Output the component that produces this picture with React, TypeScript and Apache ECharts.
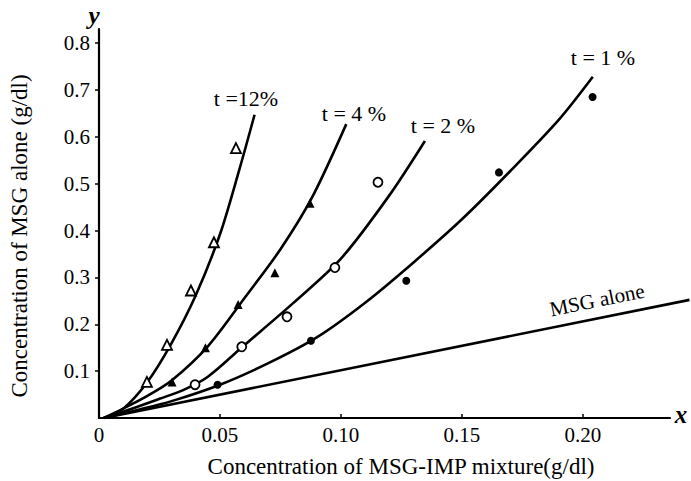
import React, { useEffect, useRef } from "react";
import * as echarts from "echarts";

// Axis ticks / labels
const xTickValues = [0.05, 0.1, 0.15, 0.2];
const xLabelValues = [0, 0.05, 0.1, 0.15, 0.2];
const yTickValues = [0.1, 0.2, 0.3, 0.4, 0.5, 0.6, 0.7, 0.8];

// Measured points (x: MSG-IMP mixture g/dl, y: MSG alone g/dl)
const pointsT12 = [
  [0.0198, 0.077],
  [0.0281, 0.156],
  [0.038, 0.272],
  [0.0475, 0.375],
  [0.0566, 0.576],
];
const pointsT4 = [
  [0.0302, 0.077],
  [0.044, 0.15],
  [0.0575, 0.242],
  [0.0727, 0.31],
  [0.0872, 0.458],
];
const pointsT2 = [
  [0.0397, 0.071],
  [0.059, 0.152],
  [0.0777, 0.216],
  [0.0975, 0.321],
  [0.1153, 0.503],
];
const pointsT1 = [
  [0.049, 0.071],
  [0.0876, 0.165],
  [0.127, 0.293],
  [0.1653, 0.524],
  [0.204, 0.685],
];

// Fitted curves
const curveT12 = [
  [0.002, 0],
  [0.01, 0.02],
  [0.02, 0.077],
  [0.03, 0.16],
  [0.04, 0.262],
  [0.05, 0.392],
  [0.058, 0.53],
  [0.0643, 0.647],
];
const curveT4 = [
  [0.002, 0],
  [0.01, 0.02],
  [0.02, 0.047],
  [0.03, 0.08],
  [0.045, 0.153],
  [0.06, 0.255],
  [0.075, 0.36],
  [0.088, 0.47],
  [0.1022, 0.627],
];
const curveT2 = [
  [0.002, 0],
  [0.012, 0.017],
  [0.025, 0.041],
  [0.035, 0.06],
  [0.045, 0.088],
  [0.06, 0.155],
  [0.08, 0.244],
  [0.1, 0.34],
  [0.12, 0.475],
  [0.1347, 0.591],
];
const curveT1 = [
  [0.002, 0],
  [0.015, 0.016],
  [0.03, 0.036],
  [0.05, 0.071],
  [0.07, 0.117],
  [0.09, 0.172],
  [0.11, 0.246],
  [0.13, 0.332],
  [0.15, 0.424],
  [0.17, 0.527],
  [0.19, 0.636],
  [0.2041, 0.728],
];
const msgAlone = [
  [0.002, 0],
  [0.244, 0.252],
];

const curveLabels = ["t =12%", "t = 4 %", "t = 2 %", "t = 1 %"];

const FONT = "'Liberation Serif', 'DejaVu Serif', serif";

export default function App() {
  const ref = useRef<HTMLDivElement>(null);

  useEffect(() => {
    if (!ref.current) return;
    const chart = echarts.init(ref.current, null, { renderer: "svg" });

    const curve = (name: string, data: number[][]) => ({
      name,
      type: "line",
      data,
      smooth: 0.3,
      showSymbol: false,
      symbol: "none",
      lineStyle: { color: "#000", width: 2.6 },
      z: 2,
    });
    const pts = (
      name: string,
      data: number[][],
      symbol: string,
      size: number,
      filled: boolean
    ) => ({
      name,
      type: "scatter",
      data,
      symbol,
      symbolSize: size,
      itemStyle: {
        color: filled ? "#000" : "#fff",
        borderColor: "#000",
        borderWidth: filled ? 0 : 1.8,
        opacity: 1,
      },
      z: 3,
    });

    const textStyle = (fontSize: number, extra: any = {}) => ({
      fill: "#000",
      font: `${extra.fontStyle || "normal"} ${extra.fontWeight || "normal"} ${fontSize}px ${FONT}`,
      align: "center",
      verticalAlign: "middle",
    });

    chart.setOption({
      animation: false,
      backgroundColor: "#fff",
      grid: [
        { left: 99, right: 21, top: 29, bottom: 63, containLabel: false },
        { left: 99, right: 1, top: 29, bottom: 63, containLabel: false },
      ],
      xAxis: [
        {
          type: "value",
          gridIndex: 0,
          min: 0,
          max: 0.236,
          splitLine: { show: false },
          axisLine: { show: true, onZero: false, lineStyle: { color: "#000", width: 2.2 } },
          axisTick: {
            show: true,
            inside: true,
            length: 4,
            customValues: xTickValues,
            lineStyle: { color: "#000", width: 1.5 },
          },
          axisLabel: {
            customValues: xLabelValues,
            margin: 6,
            color: "#000",
            fontFamily: FONT,
            fontSize: 21,
            formatter: (v: number) => (v === 0 ? "0" : v.toFixed(2)),
          },
        },
        {
          type: "value",
          gridIndex: 1,
          min: 0,
          max: 0.2442,
          show: false,
        },
      ],
      yAxis: [
        {
          type: "value",
          gridIndex: 0,
          min: 0,
          max: 0.83,
          splitLine: { show: false },
          axisLine: { show: true, onZero: false, lineStyle: { color: "#000", width: 2.2 } },
          axisTick: {
            show: true,
            inside: false,
            length: 4,
            customValues: yTickValues,
            lineStyle: { color: "#000", width: 1.5 },
          },
          axisLabel: {
            customValues: yTickValues,
            margin: 9,
            color: "#000",
            fontFamily: FONT,
            fontSize: 21,
            formatter: (v: number) => v.toFixed(1),
          },
        },
        {
          type: "value",
          gridIndex: 1,
          min: 0,
          max: 0.83,
          show: false,
        },
      ],
      series: [
        {
          ...curve("MSG alone", msgAlone),
          smooth: false,
          xAxisIndex: 1,
          yAxisIndex: 1,
        },
        curve("t=12%", curveT12),
        curve("t=4%", curveT4),
        curve("t=2%", curveT2),
        curve("t=1%", curveT1),
        pts("t=12% data", pointsT12, "triangle", 10, false),
        pts("t=4% data", pointsT4, "triangle", 9, true),
        pts("t=2% data", pointsT2, "circle", 9, false),
        pts("t=1% data", pointsT1, "circle", 8, true),
      ],
      graphic: [
        {
          type: "text",
          x: 246,
          y: 98,
          style: { ...textStyle(22), text: curveLabels[0] },
        },
        {
          type: "text",
          x: 354,
          y: 113,
          style: { ...textStyle(22), text: curveLabels[1] },
        },
        {
          type: "text",
          x: 443,
          y: 125,
          style: { ...textStyle(22), text: curveLabels[2] },
        },
        {
          type: "text",
          x: 603,
          y: 57,
          style: { ...textStyle(22), text: curveLabels[3] },
        },
        {
          type: "text",
          x: 597,
          y: 300,
          rotation: 0.2,
          style: { ...textStyle(21), text: "MSG alone" },
        },
        {
          type: "text",
          x: 94,
          y: 15,
          style: { ...textStyle(25, { fontStyle: "italic", fontWeight: "bold" }), text: "y" },
        },
        {
          type: "text",
          x: 681,
          y: 414,
          style: { ...textStyle(25, { fontStyle: "italic", fontWeight: "bold" }), text: "x" },
        },
        {
          type: "text",
          x: 401,
          y: 466,
          style: { ...textStyle(23), text: "Concentration of MSG-IMP mixture(g/dl)" },
        },
        {
          type: "text",
          x: 19,
          y: 236,
          rotation: Math.PI / 2,
          style: { ...textStyle(23), text: "Concentration of MSG alone (g/dl)" },
        },
      ],
    });

    return () => chart.dispose();
  }, []);

  return (
    <div
      ref={ref}
      style={{ position: "fixed", left: 0, top: 0, width: 691, height: 481, background: "#fff" }}
    />
  );
}
